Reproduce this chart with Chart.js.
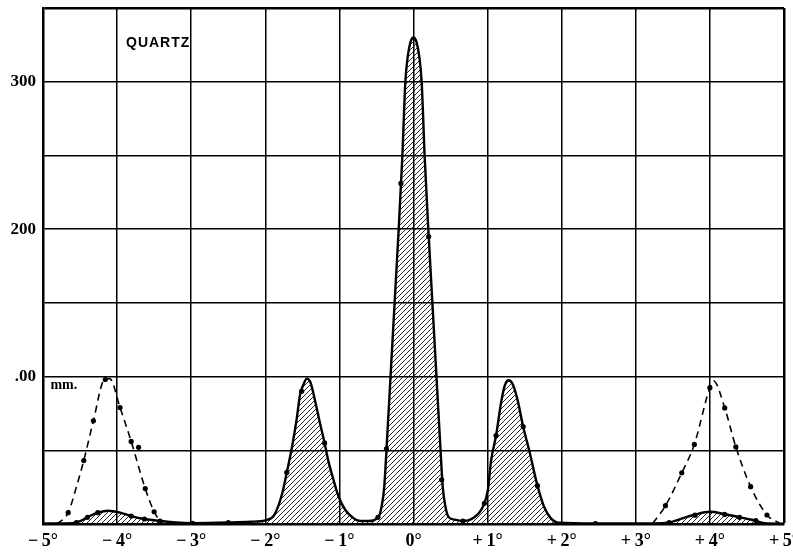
<!DOCTYPE html>
<html>
<head>
<meta charset="utf-8">
<script src="https://cdn.jsdelivr.net/npm/chart.js@4"></script>
<style>
  body { margin: 0; background: #fff; }
  canvas { display: block; }
</style>
</head>
<body>
<canvas id="quartz" width="793" height="554"></canvas>
<script>
// solid curve (hatched), degrees vs mm
var curveX = [-5.0, -4.8, -4.6, -4.5, -4.39, -4.26, -4.12, -3.96, -3.81, -3.63, -3.41, -3.2, -2.98, -2.5, -2.2, -2.0,
  -1.88, -1.77, -1.71, -1.64, -1.58, -1.53, -1.49, -1.44, -1.39, -1.33, -1.26, -1.2, -1.15, -1.08, -1.01, -0.92,
  -0.81, -0.72, -0.61, -0.47, -0.43, -0.395, -0.365, -0.31, -0.255, -0.2, -0.15, -0.11, -0.075, -0.04, 0,
  0.04, 0.075, 0.11, 0.15, 0.2, 0.255, 0.31, 0.365, 0.395, 0.43, 0.47, 0.55, 0.667,
  0.8, 0.936, 1.003, 1.047, 1.114, 1.181, 1.226, 1.279, 1.338, 1.405, 1.48, 1.561, 1.673, 1.762, 1.852, 1.963,
  2.456, 3.0, 3.434, 3.59, 3.78, 4.0, 4.19, 4.37, 4.58, 4.74, 5.0];
var curveY = [0.3, 0.4, 0.5, 2, 4.9, 7.7, 9, 7.7, 5.4, 3.4, 2, 1, 0.6, 1, 1.5, 2.5,
  6, 21, 35, 52, 70, 88, 94, 98.6, 96, 84, 68, 55, 43, 30, 18.5, 9.5,
  4, 2, 2, 5, 12, 25, 50, 100, 150, 200, 250, 300, 318, 327, 330,
  327, 318, 300, 250, 200, 150, 100, 50, 25, 12, 5, 3, 2,
  3.9, 11.7, 23, 43, 60, 82, 93, 97.5, 95, 84, 66, 50, 26, 11.7, 4, 0.8,
  0.3, 0.3, 0.9, 3.2, 6.1, 8.3, 6.8, 4.9, 2.7, 0.5, 0.2];

// dashed curves
var dashLeftX = [-4.81, -4.66, -4.55, -4.45, -4.32, -4.17, -4.1, -3.96, -3.81, -3.62, -3.5, -3.4];
var dashLeftY = [0, 7.7, 25, 43, 70, 98, 98.6, 79, 56, 24, 8.3, 0.5];
var dashRightX = [3.23, 3.4, 3.62, 3.79, 4.0, 4.05, 4.2, 4.35, 4.55, 4.77, 4.94];
var dashRightY = [0.5, 12.4, 34.7, 54, 92.5, 97, 78.7, 52.3, 25.3, 6.1, 0.5];

// observed points
var dotX = [-4.66, -4.45, -4.32, -4.16, -3.96, -3.81, -3.71, -3.62, -3.5,
  3.4, 3.62, 3.79, 4.0, 4.2, 4.35, 4.55, 4.77,
  -4.55, -4.4, -4.26, -3.81, -3.63, -3.42, -2.98, -2.5, -1.71, -1.51, -1.2, -0.48, -0.365,
  -0.17, 0.205, 0.38, 0.667, 0.957, 1.114, 1.48, 1.673, 2.456, 3.45, 3.8, 4.2, 4.4, 4.62];
var dotY = [7.7, 43, 70, 98, 79, 56, 52, 24, 8.3,
  12.4, 34.7, 54, 92.5, 78.7, 52.3, 25.3, 6.1,
  1, 4.5, 7.7, 5.4, 3.4, 2, 0.5, 1, 35, 90, 55, 4.5, 51,
  231, 195, 30, 2, 14, 60, 66, 26, 0.3, 1, 6, 6.5, 4.5, 2.3];

var xTicks = [-5, -4, -3, -2, -1, 0, 1, 2, 3, 4, 5];
var yLabels = { 100: '.00', 200: '200', 300: '300' };

function pts(xs, ys) {
  return xs.map(function (x, i) { return { x: x, y: ys[i] }; });
}

function degLabel(v) {
  if (v === 0) return '0°';
  return (v < 0 ? '\u2212\u2009' : '+\u2009') + Math.abs(v) + '°';
}

// diagonal hatching
var tile = document.createElement('canvas');
tile.width = 5; tile.height = 5;
var tc = tile.getContext('2d');
tc.strokeStyle = '#111';
tc.lineWidth = 0.9;
tc.beginPath();
tc.moveTo(-1, 6); tc.lineTo(6, -1);
tc.moveTo(-1, 1); tc.lineTo(1, -1);
tc.moveTo(4, 6); tc.lineTo(6, 4);
tc.stroke();
var hatch = tc.createPattern(tile, 'repeat');

var labels = {
  id: 'labels',
  afterDraw: function (chart) {
    var ctx = chart.ctx, sx = chart.scales.x, sy = chart.scales.y;
    ctx.save();
    ctx.fillStyle = '#000';
    ctx.textBaseline = 'middle';
    ctx.font = 'bold 14px "Liberation Sans", Arial, sans-serif';
    ctx.letterSpacing = '1px';
    ctx.fillText('QUARTZ', sx.getPixelForValue(-3.88), sy.getPixelForValue(326));
    ctx.letterSpacing = '0px';
    ctx.font = 'bold 14px "Liberation Serif", serif';
    ctx.fillText('mm.', sx.getPixelForValue(-4.9), sy.getPixelForValue(94));
    ctx.restore();
  }
};

new Chart(document.getElementById('quartz'), {
  type: 'scatter',
  data: {
    datasets: [
      {
        data: pts(curveX, curveY),
        showLine: true,
        cubicInterpolationMode: 'monotone',
        borderColor: '#000',
        borderWidth: 2.4,
        pointRadius: 0,
        fill: 'origin',
        backgroundColor: hatch
      },
      {
        data: pts(dashLeftX, dashLeftY),
        showLine: true,
        cubicInterpolationMode: 'monotone',
        borderColor: '#000',
        borderWidth: 1.6,
        borderDash: [7, 5],
        pointRadius: 0,
        fill: false
      },
      {
        data: pts(dashRightX, dashRightY),
        showLine: true,
        cubicInterpolationMode: 'monotone',
        borderColor: '#000',
        borderWidth: 1.6,
        borderDash: [7, 5],
        pointRadius: 0,
        fill: false
      },
      {
        data: pts(dotX, dotY),
        showLine: false,
        pointRadius: 2.6,
        pointBackgroundColor: '#000',
        pointBorderWidth: 0
      }
    ]
  },
  options: {
    responsive: false,
    animation: false,
    devicePixelRatio: 1,
    layout: { padding: { top: 8, right: 9, left: 0, bottom: 0 } },
    plugins: { legend: { display: false }, tooltip: { enabled: false } },
    scales: {
      x: {
        type: 'linear',
        min: -5, max: 5,
        afterBuildTicks: function (s) { s.ticks = xTicks.map(function (v) { return { value: v }; }); },
        afterFit: function (s) { s.height = 30; s.paddingLeft = 0; s.paddingRight = 0; },
        grid: {
          color: '#000',
          drawTicks: false,
          lineWidth: function (c) { return c.tick && (c.tick.value === 5) ? 2.5 : 1.5; }
        },
        border: { color: '#000', width: 2.5 },
        ticks: {
          color: '#000',
          padding: 7,
          maxRotation: 0,
          autoSkip: false,
          font: { family: '"Liberation Serif", "DejaVu Serif", serif', size: 18, weight: 'bold' },
          callback: function (v) { return degLabel(v); }
        }
      },
      y: {
        min: 0, max: 350,
        ticks: {
          stepSize: 50,
          color: '#000',
          padding: 7,
          font: { family: '"Liberation Serif", "DejaVu Serif", serif', size: 17, weight: 'bold' },
          callback: function (v) { return yLabels[v] || ''; }
        },
        afterFit: function (s) { s.width = 43; s.paddingTop = 0; s.paddingBottom = 0; },
        grid: {
          color: '#000',
          drawTicks: false,
          lineWidth: function (c) { return c.tick && (c.tick.value === 350) ? 2.5 : 1.5; }
        },
        border: { color: '#000', width: 2.5 }
      }
    }
  },
  plugins: [labels]
});
</script>
</body>
</html>
